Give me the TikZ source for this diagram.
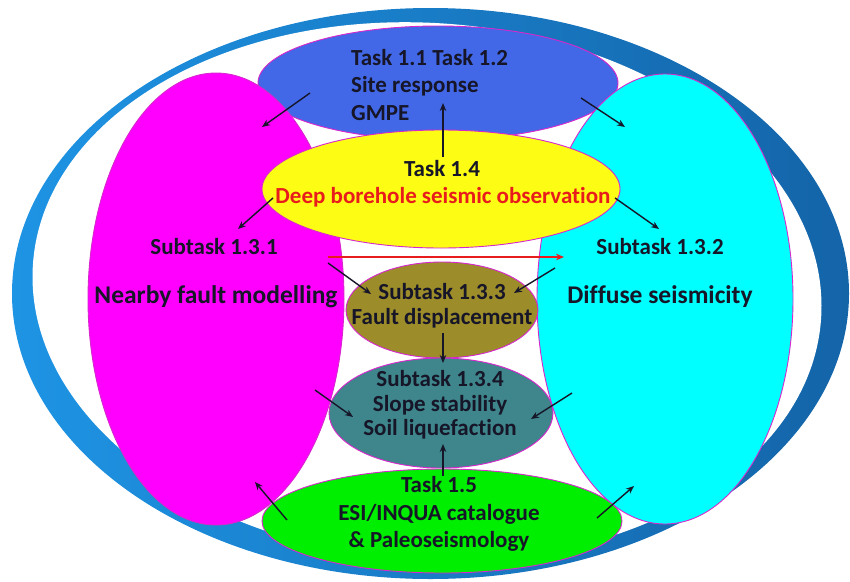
\documentclass[tikz,border=0pt]{standalone}
\usepackage{fontspec}
\setmainfont{Carlito}[Ligatures=NoCommon]
\usetikzlibrary{shapes.geometric,arrows.meta}

\definecolor{ringlight}{RGB}{30,148,228}
\definecolor{ringdark}{RGB}{20,100,168}
\definecolor{edgepink}{RGB}{215,40,205}
\definecolor{taskblue}{RGB}{66,104,232}
\definecolor{faultpink}{RGB}{255,0,255}
\definecolor{diffcyan}{RGB}{0,255,255}
\definecolor{boreyellow}{RGB}{252,252,20}
\definecolor{dispolive}{RGB}{156,140,42}
\definecolor{slopeteal}{RGB}{62,134,140}
\definecolor{esigreen}{RGB}{0,238,0}
\definecolor{ink}{RGB}{22,22,40}
\definecolor{borered}{RGB}{232,28,28}

\begin{document}
\begin{tikzpicture}[x=1pt,y=-1pt,
  blob/.style={ellipse, draw=edgepink, line width=0.9pt, inner sep=0pt},
  lbl/.style={font=\bfseries\fontsize{23}{27.5}\selectfont, text=ink, inner sep=0pt, align=center},
  biglbl/.style={font=\bfseries\fontsize{25.5}{30}\selectfont, text=ink, inner sep=0pt},
  link/.style={-{Stealth[length=8pt,width=6.5pt]}, line width=1.4pt, draw=ink}]
\useasboundingbox (0,0) rectangle (850,581);

% outer ring: shaded ellipse with a tilted white hole
\shade[left color=ringlight, right color=ringdark]
  (430.5,293.5) ellipse [x radius=418.5pt, y radius=285.5pt];
\fill[white, rotate around={-4:(427,291.5)}]
  (427,291.5) ellipse [x radius=395pt, y radius=268.5pt];

% task areas
\node[blob, fill=taskblue, minimum width=360, minimum height=114] (sitebox) at (438,83) {};
\node[blob, fill=faultpink, minimum width=256, minimum height=452] (faultbox) at (216,299) {};
\node[blob, fill=diffcyan, minimum width=256, minimum height=450] (diffbox) at (665,299) {};
\node[blob, fill=boreyellow, minimum width=358, minimum height=118] (borebox) at (441,189) {};
\node[blob, fill=dispolive, minimum width=192, minimum height=96] (dispbox) at (442,310) {};
\node[blob, fill=slopeteal, minimum width=224, minimum height=110] (slopebox) at (441,413) {};
\node[blob, fill=esigreen, minimum width=360, minimum height=104] (esibox) at (442,521) {};

% labels
\node[lbl, anchor=west, align=left] (sitetxt) at (351,85)
  {Task 1.1 Task 1.2\\Site response\\GMPE};
\node[lbl] (boretask) at (442,169) {Task 1.4};
\node[lbl, text=borered] (boretxt) at (443,197) {Deep borehole seismic observation};
\node[lbl] (sub131) at (214,247) {Subtask 1.3.1};
\node[lbl] (sub132) at (660,247) {Subtask 1.3.2};
\node[biglbl] (faulttxt) at (216,297) {Nearby fault modelling};
\node[biglbl] (difftxt) at (660,297) {Diffuse seismicity};
\node[lbl, font=\bfseries\fontsize{23}{25}\selectfont] (disptxt) at (442,306)
  {Subtask 1.3.3\\Fault displacement};
\node[lbl, font=\bfseries\fontsize{23}{24.5}\selectfont] (slopetxt) at (440,405)
  {Subtask 1.3.4\\Slope stability\\Soil liquefaction};
\node[lbl] (esitxt) at (439,514)
  {Task 1.5\\ESI/INQUA catalogue\\\& Paleoseismology};

% arrow end points
\coordinate (siteL) at (310,93);   \coordinate (faultT) at (262,127);
\coordinate (siteR) at (581,98);   \coordinate (diffT) at (625,127);
\coordinate (boreUp) at (443,157); \coordinate (siteB) at (443,103);
\coordinate (boreL) at (273,198);  \coordinate (faultM) at (238,229);
\coordinate (boreR) at (615,198);  \coordinate (diffM) at (659,229);
\coordinate (redA) at (328,257);   \coordinate (redB) at (564,257);
\coordinate (faultC) at (328,263); \coordinate (dispL) at (371,294);
\coordinate (diffC) at (555,268);  \coordinate (dispR) at (514,293);
\coordinate (dispB) at (443,333);  \coordinate (slopeT) at (443,363);
\coordinate (faultD) at (315,390); \coordinate (slopeL) at (353,417);
\coordinate (diffD) at (572,393);  \coordinate (slopeR) at (531,419);
\coordinate (esiT) at (443,476);   \coordinate (slopeB) at (443,444);
\coordinate (esiL) at (287,520);   \coordinate (faultB) at (255,482);
\coordinate (esiR) at (597,518);   \coordinate (diffB) at (634,486);

% connectors
\draw[link] (siteL) -- (faultT);
\draw[link] (siteR) -- (diffT);
\draw[link] (boreUp) -- (siteB);
\draw[link] (boreL) -- (faultM);
\draw[link] (boreR) -- (diffM);
\draw[link, draw=borered, line width=1.8pt] (redA) -- (redB);
\draw[link] (faultC) -- (dispL);
\draw[link] (diffC) -- (dispR);
\draw[link] (dispB) -- (slopeT);
\draw[link] (faultD) -- (slopeL);
\draw[link] (diffD) -- (slopeR);
\draw[link] (esiT) -- (slopeB);
\draw[link] (esiL) -- (faultB);
\draw[link] (esiR) -- (diffB);
\end{tikzpicture}
\end{document}
